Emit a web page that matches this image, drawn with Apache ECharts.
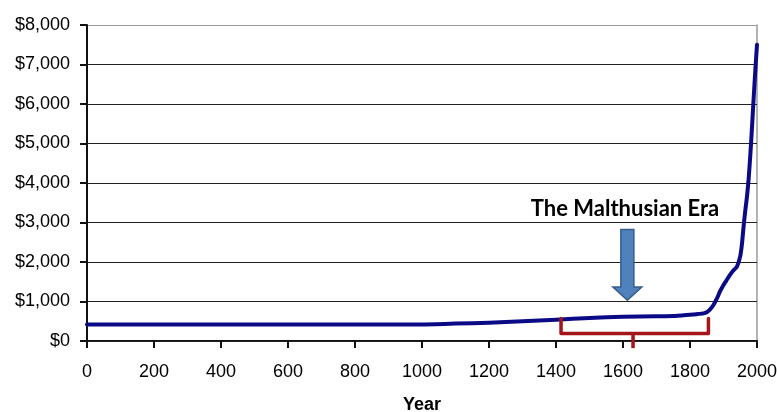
<!DOCTYPE html>
<html>
<head>
<meta charset="utf-8">
<script src="https://cdn.jsdelivr.net/npm/echarts@6/dist/echarts.min.js"></script>
<style>
  html, body { margin: 0; padding: 0; background: #fff; }
  #chart { width: 777px; height: 412px; }
</style>
</head>
<body>
<div id="chart"></div>
<script>
// World GDP per capita (1990 dollars) by year
const years = [0, 1000, 1100, 1200, 1300, 1400, 1500, 1600, 1700, 1750, 1800, 1820, 1840,
  1850, 1860, 1870, 1880, 1890, 1900, 1910, 1920, 1930, 1940, 1950, 1955, 1960, 1965,
  1970, 1975, 1980, 1985, 1990, 1995, 2000];
const gdpPerCapita = [420, 420, 440, 465, 500, 540, 580, 615, 625, 630, 665, 680, 700,
  730, 800, 910, 1070, 1260, 1420, 1550, 1680, 1790, 1880, 2150, 2450, 2900, 3300,
  3650, 4100, 4700, 5400, 6150, 6850, 7500];

// Axis ranges and annotation anchors, in data units (year, dollars)
const yearRange = [0, 2000, 200];
const dollarRange = [0, 8000, 1000];
const eraLabel = 'The Malthusian Era';
const eraYears = { start: 1415, middle: 1630, end: 1855 };

const fmtDollar = v => '$' + v.toLocaleString('en-US');

const chart = echarts.init(document.getElementById('chart'), null, { renderer: 'canvas' });

// Horizontal rules: dark inside the plot, light grey along the top edge
const ruleColors = ['#222', '#222', '#222', '#222', '#222', '#222', '#222', '#222', '#9a9a9a'];

chart.setOption({
  animation: false,
  backgroundColor: '#fff',
  grid: {
    left: 87, right: 20, top: 25, bottom: 71,
    containLabel: false,
    outerBoundsMode: 'none',
    show: false
  },
  xAxis: {
    type: 'value',
    min: yearRange[0], max: yearRange[1], interval: yearRange[2],
    name: 'Year',
    nameLocation: 'middle',
    nameGap: 55,
    nameTextStyle: { fontFamily: 'Liberation Sans', fontWeight: 'bold', fontSize: 18, color: '#000' },
    axisLine: { show: true, onZero: false, lineStyle: { color: '#111', width: 2 } },
    axisTick: { show: false },
    axisLabel: { margin: 22, fontFamily: 'Liberation Sans', fontSize: 18, color: '#000', formatter: v => String(v) },
    splitLine: { show: false }
  },
  yAxis: [{
    type: 'value',
    min: dollarRange[0], max: dollarRange[1], interval: dollarRange[2],
    axisLine: { show: true, onZero: false, lineStyle: { color: '#111', width: 2 } },
    axisTick: { show: false },
    axisLabel: { margin: 17, fontFamily: 'Liberation Sans', fontSize: 18, color: '#000', formatter: fmtDollar },
    splitLine: { show: true, lineStyle: { color: ruleColors, width: 1 } },
    z: 3
  }, {
    // right-hand frame edge
    type: 'value', position: 'right',
    min: dollarRange[0], max: dollarRange[1], interval: dollarRange[2],
    axisLine: { show: true, onZero: false, lineStyle: { color: '#9a9a9a', width: 1.5 } },
    axisTick: { show: false }, axisLabel: { show: false }, splitLine: { show: false }
  }],
  series: [{
    type: 'line',
    data: years.map((y, i) => [y, gdpPerCapita[i]]),
    showSymbol: false,
    smooth: 0.2,
    lineStyle: { color: '#0a0a86', width: 4, cap: 'round', join: 'round' },
    z: 5
  }]
});

const px = (year, val) => chart.convertToPixel({ gridIndex: 0 }, [year, val]);

// Outward tick marks at every labelled value on both axes
const tickLen = 7;
const tickMarks = [];
for (let v = yearRange[0]; v <= yearRange[1]; v += yearRange[2]) {
  const p = px(v, dollarRange[0]);
  const x = Math.round(p[0]);
  tickMarks.push({
    type: 'rect', z: 20, silent: true,
    shape: { x: x - 1, y: Math.round(p[1]), width: 2, height: tickLen },
    style: { fill: '#111' }
  });
}
for (let v = dollarRange[0]; v <= dollarRange[1]; v += dollarRange[2]) {
  const p = px(yearRange[0], v);
  const y = Math.round(p[1]);
  tickMarks.push({
    type: 'rect', z: 20, silent: true,
    shape: { x: Math.round(p[0]) - tickLen, y: y - 1, width: tickLen, height: 2 },
    style: { fill: '#111' }
  });
}

// Annotation: bracket under the pre-industrial stretch, arrow and caption above it
const bl = px(eraYears.start, 570);
const br = px(eraYears.end, 570);
const bBottomY = px(eraYears.middle, 190)[1];
const stem = px(eraYears.middle, -180);
const bMid = px(eraYears.middle, 190);

const arrowX = px(1613, 0)[0];
const tipY = px(1613, 1030)[1];
const headY = px(1613, 1370)[1];
const shaftTopY = px(1613, 2820)[1];
const shaftHalf = 6.5, headHalf = 14.5;

const caption = px(1606, 3340);

const bracketColor = '#a3161a';

chart.setOption({
  graphic: { elements: tickMarks.concat([
    {
      type: 'polyline', z: 10, silent: true,
      shape: { points: [[bl[0], bl[1]], [bl[0], bBottomY], [br[0], bBottomY], [br[0], br[1]]] },
      style: { stroke: bracketColor, lineWidth: 3.5, fill: null, lineJoin: 'round', lineCap: 'round' }
    },
    {
      type: 'line', z: 10, silent: true,
      shape: { x1: bMid[0], y1: bMid[1], x2: stem[0], y2: stem[1] },
      style: { stroke: bracketColor, lineWidth: 3.5, lineCap: 'butt' }
    },
    {
      type: 'polygon', z: 10, silent: true,
      shape: {
        points: [
          [arrowX - shaftHalf, shaftTopY], [arrowX + shaftHalf, shaftTopY],
          [arrowX + shaftHalf, headY], [arrowX + headHalf, headY],
          [arrowX, tipY],
          [arrowX - headHalf, headY], [arrowX - shaftHalf, headY]
        ]
      },
      style: { fill: '#4f81bd', stroke: '#385d8a', lineWidth: 1.5 }
    },
    {
      type: 'text', z: 10, silent: true,
      x: caption[0], y: caption[1],
      style: {
        text: eraLabel,
        fontFamily: 'Lato', fontWeight: 'bold', fontSize: 22,
        fill: '#000', align: 'center', verticalAlign: 'middle'
      }
    }
  ]) }
});
</script>
</body>
</html>
